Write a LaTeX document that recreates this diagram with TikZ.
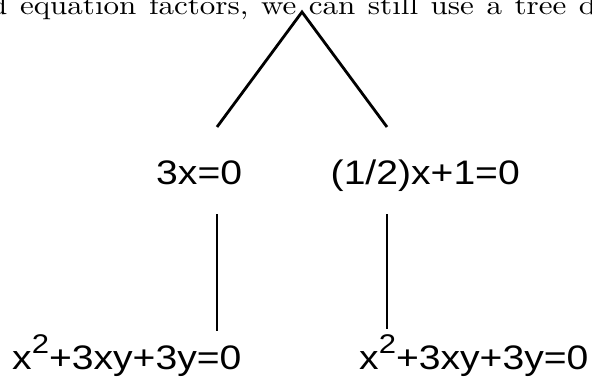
\documentclass[tikz,border=0pt]{standalone}
\usepackage{fontspec}
\newfontfamily\eqfont{Liberation Sans}
\newfontfamily\topfont{lmroman10-regular}[Extension=.otf]
\tikzset{
  branch/.style={line width=2.8pt, black},
  eq/.style={inner sep=0pt, anchor=base west, xscale=1.15, font=\eqfont\fontsize{34}{40}\selectfont},
  prose/.style={inner sep=0pt, anchor=base west, xscale=1.15, font=\topfont\fontsize{27}{32}\selectfont}
}
\begin{document}
\begin{tikzpicture}[x=1pt,y=-1pt]
\useasboundingbox (0,0) rectangle (592,377);
\clip (0,0) rectangle (592,377);
\node[prose] (prose) at (-10,14.5) {\spaceskip=10.9pt d equation factors, we can still use a tree d};
\node[eq] (e1) at (156,185) {3x=0};
\node[eq] (e2) at (330.5,185) {(1/2)x+1=0};
\node[eq] (e3) at (12,369.5) {x\raisebox{16pt}{\fontsize{27}{30}\selectfont 2}+3xy+3y=0};
\node[eq] (e4) at (359,369.5) {x\raisebox{16pt}{\fontsize{27}{30}\selectfont 2}+3xy+3y=0};
\coordinate (apex) at (302,12);
\coordinate (l1) at (217,127);
\coordinate (r1) at (387,127);
\coordinate (l2) at (217,214);
\coordinate (l3) at (217,331);
\coordinate (r2) at (387,214);
\coordinate (r3) at (387,329);
\draw[branch] (l1) -- (apex) -- (r1);
\draw[branch] (l2) -- (l3);
\draw[branch] (r2) -- (r3);
\end{tikzpicture}
\end{document}
